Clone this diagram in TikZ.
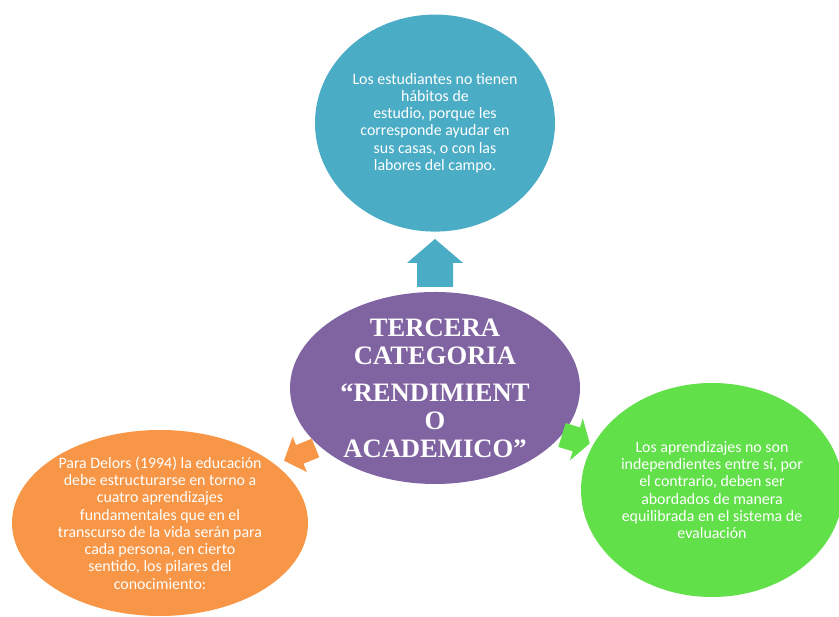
\documentclass[tikz,border=0pt]{standalone}
\usepackage{fontspec}
\setmainfont{Carlito}
\newfontfamily\catfont{Liberation Serif}
\usepackage{tikz}
\usetikzlibrary{shapes}
\usetikzlibrary{positioning}
\definecolor{aquablue}{HTML}{4BACC6}
\definecolor{catviolet}{HTML}{8064A2}
\definecolor{delorsorange}{HTML}{F79646}
\definecolor{limegreen}{HTML}{62E04A}
\tikzstyle{bubble}=[ellipse,draw=none,inner sep=0]
\tikzstyle{btext}=[align=center,text=white,inner sep=0,font=\fontsize{15.9}{17.3}\selectfont]
\tikzstyle{ctext}=[align=center,text=white,inner sep=0,font=\catfont\bfseries\fontsize{26.6}{28}\selectfont]
% colour, tail, angle, length, head length, head half width, shaft half width
\newcommand{\blockarrow}[7]{\fill[#1,shift={#2},rotate=#3] (0,-#7) -- ({#4-#5},-#7) -- ({#4-#5},-#6) -- (#4,0) -- ({#4-#5},#6) -- ({#4-#5},#7) -- (0,#7) -- cycle;}

\begin{document}
\begin{tikzpicture}[x=1pt,y=1pt]
\path[use as bounding box] (0,0) rectangle (839,617);

\node[bubble,fill=catviolet,minimum width=290pt,minimum height=192pt] (cat) at (435,229) {};
\node[bubble,fill=aquablue,minimum width=240pt,minimum height=217pt,above=60pt of cat] (habits) {};
\node[bubble,fill=delorsorange,minimum width=296pt,minimum height=186pt] (delors) at (160,94) {};
\node[bubble,fill=limegreen,minimum width=262pt,minimum height=214pt] (balance) at (712,127) {};

\node[ctext] (catT) at (cat) {TERCERA\\ CATEGORIA\\[9pt] “RENDIMIENT\\ O\\ ACADEMICO”};
\node[btext] (habitsT) at (habits) {Los estudiantes no tienen\\ hábitos de\\ estudio, porque les\\ corresponde ayudar en\\ sus casas, o con las\\ labores del campo.};
\node[btext] (delorsT) at (delors) {Para Delors (1994) la educación\\ debe estructurarse en torno a\\ cuatro aprendizajes\\ fundamentales que en el\\ transcurso de la vida serán para\\ cada persona, en cierto\\ sentido, los pilares del\\ conocimiento:};
\node[btext] (balanceT) at (balance) {Los aprendizajes no son\\ independientes entre sí, por\\ el contrario, deben ser\\ abordados de manera\\ equilibrada en el sistema de\\ evaluación};

\coordinate (upTail) at (435,330);
\coordinate (leftTail) at (315.5,169);
\coordinate (rightTail) at (562,182);
\blockarrow{aquablue}{(upTail)}{90}{48}{24}{28}{18}
\blockarrow{delorsorange}{(leftTail)}{202}{34}{17}{19}{10}
\blockarrow{limegreen}{(rightTail)}{-17}{29}{14}{22}{12.5}
\end{tikzpicture}
\end{document}
